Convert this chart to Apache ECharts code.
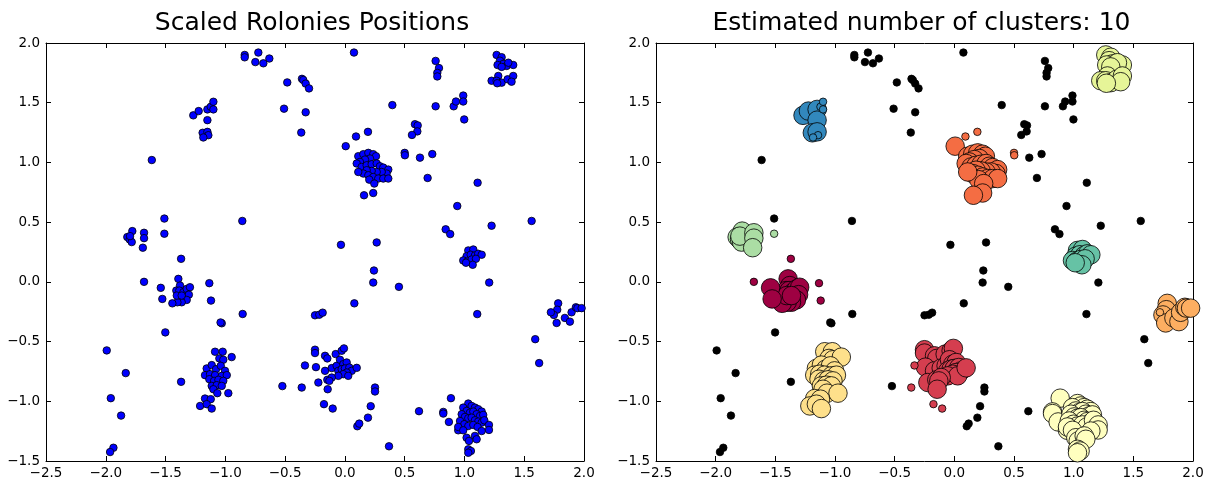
<!DOCTYPE html>
<html>
<head>
<meta charset="utf-8">
<script src="https://cdn.jsdelivr.net/npm/echarts@6/dist/echarts.min.js"></script>
<style>
  html, body { margin: 0; padding: 0; background: #fff; }
  #chart { width: 1211px; height: 484px; }
</style>
</head>
<body>
<div id="chart"></div>
<script>
// axis ticks
const xTicks = [-2.5, -2.0, -1.5, -1.0, -0.5, 0.0, 0.5, 1.0, 1.5, 2.0]
const yTicks = [-1.5, -1.0, -0.5, 0.0, 0.5, 1.0, 1.5, 2.0]

const titles = ['Scaled Rolonies Positions', 'Estimated number of clusters: 10']

// cluster colours (Spectral), noise is black
const clusterColors = ['#9e0142', '#d53e4f', '#f46d43', '#fdae61', '#fee08b',
  '#ffffbf', '#e6f598', '#abdda4', '#66c2a5', '#3288bd']

// [x, y, core(1) / border(0)]
const cluster0 = [[-1.393,0.025,1],[-1.379,-0.031,1],[-1.41,-0.073,1],[-1.385,-0.073,1],[-1.351,-0.087,1],
  [-1.323,-0.059,1],[-1.296,-0.045,1],[-1.305,-0.107,1],[-1.323,-0.151,1],[-1.365,-0.171,1],[-1.401,-0.171,1],
  [-1.443,-0.18,1],[-1.406,-0.115,1],[-1.365,-0.115,1],[-1.54,-0.05,1],[-1.527,-0.143,1],
  [-1.37,0.193,0],[-1.68,0.0,0],[-1.134,-0.011,0],[-1.12,-0.157,0]]
const cluster1 = [[-0.25,-0.568,1],[-0.25,-0.596,1],[-0.166,-0.619,1],[-0.147,-0.641,1],[-0.077,-0.605,1],
  [-0.027,-0.577,1],[-0.008,-0.557,1],[-0.242,-0.714,1],[-0.166,-0.745,1],[-0.11,-0.722,1],[-0.069,-0.703,1],
  [-0.041,-0.652,1],[-0.013,-0.689,1],[0.015,-0.675,1],[-0.055,-0.745,1],[-0.027,-0.731,1],[0.0,-0.725,1],
  [0.037,-0.717,1],[0.057,-0.745,1],[0.015,-0.759,1],[-0.013,-0.773,1],[-0.055,-0.787,1],[0.028,-0.787,1],
  [0.099,-0.72,1],[-0.222,-0.843,1],[-0.147,-0.82,1],[-0.11,-0.801,1],[-0.13,-0.829,1],[-0.144,-0.899,1],
  [-0.334,-0.70,0],[-0.361,-0.885,0],[-0.175,-1.024,0],[-0.102,-1.061,0]]
const cluster2 = [[0.007,1.136,1],[0.112,1.052,1],[0.154,1.069,1],[0.196,1.08,1],[0.237,1.069,1],[0.26,1.052,1],
  [0.21,1.033,1],[0.168,1.024,1],[0.126,1.004,1],[0.099,0.991,1],[0.14,0.962,1],[0.182,0.976,1],[0.224,0.985,1],
  [0.266,0.991,1],[0.293,0.968,1],[0.321,0.957,1],[0.363,0.94,1],[0.349,0.907,1],[0.308,0.92,1],[0.266,0.92,1],
  [0.224,0.929,1],[0.182,0.935,1],[0.154,0.907,1],[0.196,0.893,1],[0.237,0.878,1],[0.279,0.865,1],[0.321,0.865,1],
  [0.363,0.865,1],[0.204,0.856,1],[0.112,0.92,1],[0.246,0.823,1],[0.237,0.744,1],[0.16,0.725,1],
  [0.093,1.217,0],[0.193,1.256,0],[0.50,1.08,0],[0.502,1.06,0]]
const cluster3 = [[1.784,-0.18,1],[1.776,-0.233,1],[1.748,-0.277,1],[1.771,-0.344,1],[1.84,-0.302,1],
  [1.882,-0.333,1],[1.896,-0.255,1],[1.932,-0.213,1],[1.945,-0.22,1],[1.98,-0.22,1],[1.723,-0.255,0]]
const cluster4 = [[-1.086,-0.585,1],[-1.022,-0.585,1],[-1.05,-0.641,1],[-1.017,-0.652,1],[-0.947,-0.63,1],
  [-1.156,-0.725,1],[-1.114,-0.697,1],[-1.078,-0.731,1],[-1.038,-0.703,1],[-1.003,-0.745,1],[-1.17,-0.781,1],
  [-1.128,-0.773,1],[-1.086,-0.781,1],[-1.03,-0.787,1],[-0.988,-0.781,1],[-1.134,-0.815,1],[-1.094,-0.829,1],
  [-1.058,-0.82,1],[-1.017,-0.829,1],[-1.114,-0.871,1],[-1.072,-0.865,1],[-1.03,-0.871,1],[-1.10,-0.899,1],
  [-1.067,-0.932,1],[-0.975,-0.932,1],[-1.17,-0.977,1],[-1.122,-0.982,1],[-1.211,-1.039,1],[-1.156,-1.024,1],
  [-1.114,-1.061,1]]
const cluster5 = [[0.887,-0.974,1],[0.823,-1.089,1],[0.823,-1.103,1],[0.87,-1.173,1],[0.948,-1.243,1],
  [1.032,-1.019,1],[1.06,-1.039,1],[1.088,-1.053,1],[1.115,-1.066,1],[1.144,-1.086,1],[0.99,-1.053,1],
  [1.018,-1.081,1],[1.046,-1.095,1],[1.074,-1.086,1],[1.102,-1.108,1],[1.13,-1.123,1],[1.157,-1.114,1],
  [0.977,-1.108,1],[1.004,-1.131,1],[1.032,-1.142,1],[1.06,-1.137,1],[1.088,-1.159,1],[1.115,-1.17,1],
  [1.144,-1.179,1],[0.963,-1.165,1],[0.999,-1.192,1],[1.032,-1.207,1],[1.074,-1.198,1],[1.11,-1.215,1],
  [0.948,-1.215,1],[0.99,-1.243,1],[1.166,-1.159,1],[1.205,-1.198,1],[1.205,-1.24,1],[1.144,-1.249,1],
  [1.018,-1.305,1],[1.038,-1.332,1],[1.088,-1.29,1],[1.102,-1.318,1],[1.032,-1.402,1],[1.054,-1.416,1],
  [1.032,-1.431,1]]
const cluster6 = [[1.269,1.90,1],[1.311,1.881,1],[1.297,1.852,1],[1.325,1.825,1],[1.277,1.816,1],[1.353,1.808,1],
  [1.408,1.816,1],[1.367,1.835,1],[1.311,1.80,1],[1.283,1.724,1],[1.227,1.684,1],[1.269,1.684,1],[1.311,1.668,1],
  [1.361,1.696,1],[1.408,1.724,1],[1.394,1.676,1],[1.274,1.663,1]]
const cluster7 = [[-1.778,0.425,1],[-1.82,0.375,1],[-1.80,0.355,1],[-1.783,0.333,1],[-1.797,0.383,1],
  [-1.68,0.411,1],[-1.68,0.366,1],[-1.69,0.286,1],[-1.51,0.403,0]]
const cluster8 = [[1.032,0.263,1],[1.074,0.271,1],[1.018,0.215,1],[1.052,0.227,1],[1.088,0.221,1],[1.115,0.235,1],
  [1.144,0.227,1],[0.99,0.179,1],[1.023,0.17,1],[1.06,0.187,1],[1.096,0.193,1],[1.069,0.143,1],[1.013,0.16,1]]
const cluster9 = [[-1.268,1.394,1],[-1.223,1.43,1],[-1.15,1.444,1],[-1.15,1.354,1],[-1.19,1.248,1],[-1.15,1.256,1],
  [-1.122,1.466,0],[-1.10,1.508,0],[-1.10,1.444,0],[-1.142,1.228,0],[-1.184,1.209,0]]

const noise = [[-0.838,1.90],[-0.838,1.88],[-0.724,1.92],[-0.749,1.84],[-0.682,1.83],[-0.632,1.87],
  [0.076,1.92],[-0.482,1.67],[-0.359,1.70],[-0.348,1.69],[-0.328,1.66],[-0.30,1.62],
  [-0.509,1.45],[-0.328,1.42],[-0.365,1.25],[0.397,1.48],
  [0.759,1.85],[0.787,1.79],[0.773,1.75],[0.773,1.72],
  [0.759,1.47],[0.91,1.47],[0.929,1.51],[0.99,1.56],[0.99,1.51],[0.998,1.36],
  [0.586,1.32],[0.609,1.31],[0.606,1.26],[0.561,1.23],
  [0.628,1.04],[0.731,1.07],[0.692,0.87],[1.11,0.83],[0.94,0.635],
  [0.843,0.44],[0.881,0.40],[1.227,0.47],[1.562,0.51],
  [-0.033,0.31],[0.266,0.33],[0.243,0.095],[0.237,-0.006],[0.452,-0.042],[0.079,-0.18],
  [-0.25,-0.28],[-0.214,-0.275],[-0.186,-0.258],
  [1.207,-0.006],[1.107,-0.27],[1.592,-0.48],[1.625,-0.68],
  [0.252,-0.885],[0.252,-0.918],[0.216,-1.041],[0.193,-1.137],[0.104,-1.209],[0.12,-1.187],[0.369,-1.377],[0.62,-1.083],
  [-0.523,-0.873],[-1.615,1.02],[-0.858,0.51],[-1.51,0.53],
  [-1.992,-0.574],[-1.833,-0.764],[-1.37,-0.837],[-1.958,-0.974],[-1.872,-1.12],[-1.936,-1.389],[-1.964,-1.425],
  [-0.855,-0.269],[-1.03,-0.347],[-1.04,-0.34],[-1.502,-0.423]]

const clusters = [cluster0, cluster1, cluster2, cluster3, cluster4, cluster5, cluster6, cluster7, cluster8, cluster9]

const fmt = v => v.toFixed(1).replace('-', '\u2212')
const font = 'DejaVu Sans'

var myChart = echarts.init(document.getElementById('chart'))

const grids = [
  { left: 46, top: 43, width: 538, height: 418 },
  { left: 656, top: 43, width: 537, height: 418 }
]

const xAxes = []
const yAxes = []
grids.forEach((g, i) => {
  ;['bottom', 'top'].forEach(pos => {
    xAxes.push({
      type: 'value', gridIndex: i, position: pos,
      min: xTicks[0], max: xTicks[xTicks.length - 1], interval: 0.5,
      axisLine: { show: true, onZero: false, lineStyle: { color: '#000', width: 1 } },
      axisTick: { show: true, inside: true, length: 5, lineStyle: { color: '#000' } },
      axisLabel: { show: pos === 'bottom', formatter: fmt, color: '#000', fontSize: 13.5, fontFamily: font, margin: 5 },
      splitLine: { show: false }
    })
  })
  ;['left', 'right'].forEach(pos => {
    yAxes.push({
      type: 'value', gridIndex: i, position: pos,
      min: yTicks[0], max: yTicks[yTicks.length - 1], interval: 0.5,
      axisLine: { show: true, onZero: false, lineStyle: { color: '#000', width: 1 } },
      axisTick: { show: true, inside: true, length: 5, lineStyle: { color: '#000' } },
      axisLabel: { show: pos === 'left', formatter: fmt, color: '#000', fontSize: 13.5, fontFamily: font, margin: 6 },
      splitLine: { show: false }
    })
  })
})

const allPoints = noise.concat(...clusters.map(c => c.map(p => [p[0], p[1]])))

const series = [{
  type: 'scatter', xAxisIndex: 0, yAxisIndex: 0,
  data: allPoints, symbolSize: 7.5,
  itemStyle: { color: '#0000ff', borderColor: '#000', borderWidth: 0.8, opacity: 1 }
}]

clusters.forEach((c, k) => {
  const core = c.filter(p => p[2] === 1).map(p => [p[0], p[1]])
  const border = c.filter(p => p[2] === 0).map(p => [p[0], p[1]])
  series.push({
    type: 'scatter', xAxisIndex: 2, yAxisIndex: 2, data: core, symbolSize: 18.5,
    itemStyle: { color: clusterColors[k], borderColor: '#000', borderWidth: 0.8, opacity: 1 }
  })
  series.push({
    type: 'scatter', xAxisIndex: 2, yAxisIndex: 2, data: border, symbolSize: 7.5,
    itemStyle: { color: clusterColors[k], borderColor: '#000', borderWidth: 0.8, opacity: 1 }
  })
})
series.push({
  type: 'scatter', xAxisIndex: 2, yAxisIndex: 2, data: noise, symbolSize: 7.5,
  itemStyle: { color: '#000', borderColor: '#000', borderWidth: 0.8, opacity: 1 }
})

myChart.setOption({
  animation: false,
  backgroundColor: '#fff',
  title: titles.map((t, i) => ({
    text: t,
    left: grids[i].left + grids[i].width / 2 - 8,
    top: 6,
    textAlign: 'center',
    textStyle: { fontSize: 25, fontWeight: 'normal', fontFamily: font, color: '#000' }
  })),
  grid: grids,
  xAxis: xAxes,
  yAxis: yAxes,
  series: series
})
</script>
</body>
</html>
